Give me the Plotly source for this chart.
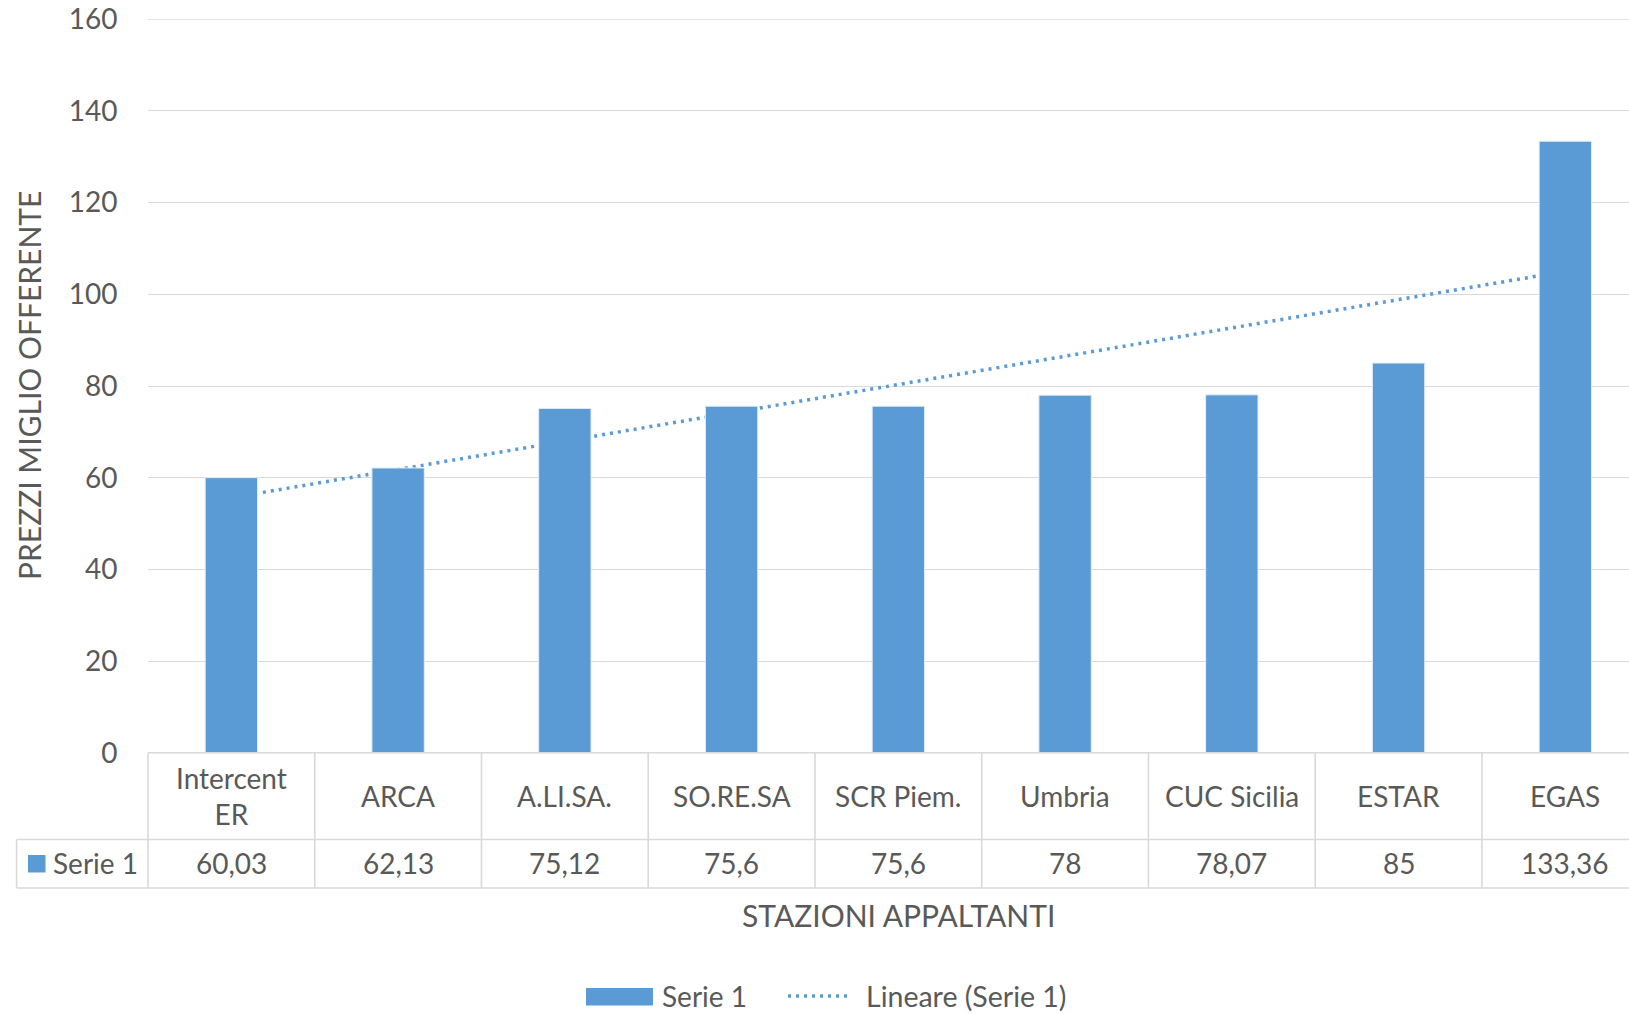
import numpy as np
import plotly.graph_objects as go

# ---------------- data ----------------
categories = ["Intercent<br>ER", "ARCA", "A.LI.SA.", "SO.RE.SA", "SCR Piem.",
              "Umbria", "CUC Sicilia", "ESTAR", "EGAS"]
values = [60.03, 62.13, 75.12, 75.6, 75.6, 78, 78.07, 85, 133.36]
value_labels = ["60,03", "62,13", "75,12", "75,6", "75,6", "78", "78,07", "85", "133,36"]
series_name = "Serie 1"
trend_name = "Lineare (Serie 1)"
y_ticks = [0, 20, 40, 60, 80, 100, 120, 140, 160]
x_title = "STAZIONI APPALTANTI"
y_title = "PREZZI MIGLIO OFFERENTE"

# ---------------- style ----------------
W, H = 1629, 1014
ML, MT, MB = 148, 19, 261
PLOT_W = W - ML
PLOT_H = H - MT - MB
BAR_COLOR = "#5B9BD5"
TEXT = "#595959"
GRID = "#D9D9D9"
FONT = "Lato"
FS = 28
XR = [-0.5, 8.382]   # right side of the chart is cropped in the reference
YR = [0, 160]

idx = np.arange(len(values))
slope, intercept = np.polyfit(idx + 1, values, 1)
trend = slope * (idx + 1) + intercept


def px_to_paper_y(py):
    return (H - MB - py) / PLOT_H


def px_to_paper_x(px):
    return (px - ML) / PLOT_W


def cat_to_paper_x(v):
    return (v - XR[0]) / (XR[1] - XR[0])


fig = go.Figure()

# trendline (drawn behind the bars: bars live on an overlaying axis)
fig.add_trace(go.Scatter(
    x=idx, y=trend, mode="lines", xaxis="x", yaxis="y",
    line=dict(color=BAR_COLOR, width=3.5, dash="3px,5px"),
    hoverinfo="skip", showlegend=False))

fig.add_trace(go.Bar(
    x=idx, y=values, xaxis="x2", yaxis="y", width=0.314,
    marker=dict(color=BAR_COLOR, line=dict(color="#E3EDF7", width=1)),
    showlegend=False))

shapes = []
annotations = []
line_style = dict(color=GRID, width=1.6)

# top gridline (at the range edge)
shapes.append(dict(type="line", xref="paper", yref="y", x0=0, x1=1,
                   y0=YR[1], y1=YR[1], line=dict(color=GRID, width=1.4), layer="below"))

y_top = px_to_paper_y(752.8)
y_mid = px_to_paper_y(839.5)
y_bot = px_to_paper_y(888)
x_cell_left = px_to_paper_x(16.6)

# horizontal table lines
shapes.append(dict(type="line", xref="paper", yref="paper", x0=0, x1=1.02,
                   y0=y_top, y1=y_top, line=line_style))
for yy in (y_mid, y_bot):
    shapes.append(dict(type="line", xref="paper", yref="paper", x0=x_cell_left, x1=1.02,
                       y0=yy, y1=yy, line=line_style))
# vertical table lines
for i in range(len(categories) + 1):
    xp = cat_to_paper_x(i - 0.5)
    if xp > 1.0:
        continue
    shapes.append(dict(type="line", xref="paper", yref="paper", x0=xp, x1=xp,
                       y0=y_top, y1=y_bot, line=line_style))
shapes.append(dict(type="line", xref="paper", yref="paper", x0=x_cell_left, x1=x_cell_left,
                   y0=y_mid, y1=y_bot, line=line_style))

# series key inside table
shapes.append(dict(type="rect", xref="paper", yref="paper",
                   x0=px_to_paper_x(28), x1=px_to_paper_x(45.5),
                   y0=px_to_paper_y(855), y1=px_to_paper_y(872.5),
                   fillcolor=BAR_COLOR, line=dict(width=0)))
annotations.append(dict(text=series_name, xref="paper", yref="paper",
                        x=px_to_paper_x(51), y=px_to_paper_y(863),
                        xanchor="left", yanchor="middle", showarrow=False,
                        font=dict(family=FONT, size=FS, color=TEXT)))

# header and value cells
for i, (c, v) in enumerate(zip(categories, value_labels)):
    annotations.append(dict(text=c, xref="x", yref="paper", x=i, y=px_to_paper_y(796),
                            xanchor="center", yanchor="middle", showarrow=False,
                            font=dict(family=FONT, size=FS, color=TEXT)))
    annotations.append(dict(text=v, xref="x", yref="paper", x=i, y=px_to_paper_y(863),
                            xanchor="center", yanchor="middle", showarrow=False,
                            font=dict(family=FONT, size=FS, color=TEXT)))

# axis titles
annotations.append(dict(text=x_title, xref="x", yref="paper", x=4, y=px_to_paper_y(915),
                        xanchor="center", yanchor="middle", showarrow=False,
                        font=dict(family=FONT, size=30, color=TEXT)))
annotations.append(dict(text=y_title, xref="paper", yref="paper", x=px_to_paper_x(29),
                        y=px_to_paper_y(386), xanchor="center", yanchor="middle",
                        textangle=-90, showarrow=False,
                        font=dict(family=FONT, size=30, color=TEXT)))

# legend
shapes.append(dict(type="rect", xref="paper", yref="paper",
                   x0=px_to_paper_x(586), x1=px_to_paper_x(653),
                   y0=px_to_paper_y(988), y1=px_to_paper_y(1005.5),
                   fillcolor=BAR_COLOR, line=dict(width=0)))
annotations.append(dict(text=series_name, xref="paper", yref="paper",
                        x=px_to_paper_x(660), y=px_to_paper_y(996),
                        xanchor="left", yanchor="middle", showarrow=False,
                        font=dict(family=FONT, size=FS, color=TEXT)))
shapes.append(dict(type="line", xref="paper", yref="paper",
                   x0=px_to_paper_x(788), x1=px_to_paper_x(852),
                   y0=px_to_paper_y(996), y1=px_to_paper_y(996),
                   line=dict(color=BAR_COLOR, width=3.5, dash="3px,5px")))
annotations.append(dict(text=trend_name, xref="paper", yref="paper",
                        x=px_to_paper_x(864), y=px_to_paper_y(996),
                        xanchor="left", yanchor="middle", showarrow=False,
                        font=dict(family=FONT, size=FS + 0.5, color=TEXT)))

fig.update_layout(
    width=W, height=H,
    margin=dict(l=ML, r=0, t=MT, b=MB),
    paper_bgcolor="white", plot_bgcolor="white",
    font=dict(family=FONT, size=FS, color=TEXT),
    xaxis=dict(range=XR, showticklabels=False, showgrid=False, zeroline=False,
               showline=False, ticks="", fixedrange=True),
    xaxis2=dict(range=XR, overlaying="x", showticklabels=False, showgrid=False,
                zeroline=False, showline=False, ticks="", fixedrange=True),
    yaxis=dict(range=YR, tickvals=y_ticks, showgrid=True, gridcolor=GRID,
               gridwidth=1.4, zeroline=False, showline=False, ticks="outside",
               ticklen=24, tickcolor="rgba(0,0,0,0)",
               tickfont=dict(family=FONT, size=FS, color=TEXT)),
    shapes=shapes, annotations=annotations,
    bargap=0.686, showlegend=False,
)

fig.write_html("out.html")
